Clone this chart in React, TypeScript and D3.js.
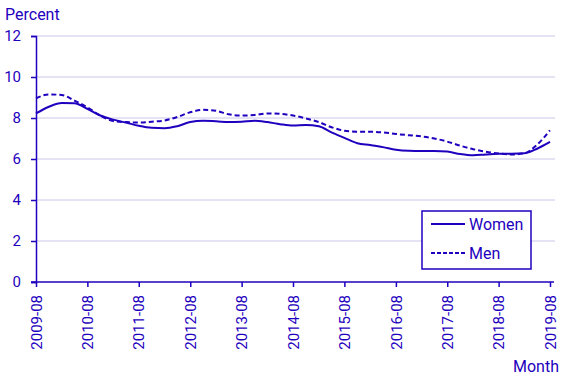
import * as d3 from "d3";
import { useEffect, useRef } from "react";

// quarterly readings, 2009-08 .. 2019-08
const startMonth = new Date(2009, 7, 1);
const women = [
  8.22, 8.55, 8.73, 8.72, 8.45, 8.12, 7.92, 7.78, 7.62, 7.52, 7.5, 7.6, 7.8, 7.86,
  7.84, 7.8, 7.82, 7.87, 7.8, 7.7, 7.63, 7.66, 7.6, 7.3, 7.03, 6.77, 6.68, 6.58,
  6.45, 6.4, 6.39, 6.39, 6.36, 6.24, 6.18, 6.22, 6.26, 6.26, 6.28, 6.5, 6.83,
];
const men = [
  8.96, 9.15, 9.12, 8.85, 8.52, 8.12, 7.85, 7.8, 7.78, 7.82, 7.88, 8.05, 8.28, 8.4,
  8.35, 8.18, 8.12, 8.15, 8.22, 8.2, 8.12, 7.98, 7.8, 7.55, 7.38, 7.33, 7.33, 7.3,
  7.22, 7.16, 7.1, 7.0, 6.85, 6.65, 6.48, 6.36, 6.27, 6.22, 6.28, 6.7, 7.4,
];
const yTicks = [0, 2, 4, 6, 8, 10, 12];
const xTickLabels = [
  "2009-08", "2010-08", "2011-08", "2012-08", "2013-08", "2014-08",
  "2015-08", "2016-08", "2017-08", "2018-08", "2019-08",
];
const seriesNames = ["Women", "Men"];

const width = 567;
const height = 378;
const color = "#1e00be";
const gridColor = "#cbc6e8";
const font = "Roboto, Arial, sans-serif";

export default function App() {
  const ref = useRef<SVGSVGElement>(null);

  useEffect(() => {
    const svg = d3.select(ref.current);
    svg.selectAll("*").remove();

    const dates = women.map((_, i) => d3.timeMonth.offset(startMonth, i * 3));
    const tickDates = xTickLabels.map((s) => d3.timeParse("%Y-%m")(s) as Date);

    const x = d3.scaleTime([startMonth, tickDates[tickDates.length - 1]], [36, 550]);
    const y = d3.scaleLinear([0, 12], [282, 36]);

    // grid
    svg
      .append("g")
      .selectAll("line")
      .data(yTicks.filter((d) => d > 0))
      .join("line")
      .attr("x1", 36)
      .attr("x2", 555)
      .attr("y1", (d) => y(d))
      .attr("y2", (d) => y(d))
      .attr("stroke", gridColor)
      .attr("stroke-width", 1);

    // y axis
    const yAxis = svg
      .append("g")
      .attr("transform", "translate(36,0)")
      .call(d3.axisLeft(y).tickValues(yTicks).tickSize(5).tickPadding(10));
    yAxis.select(".domain").attr("stroke", color).attr("stroke-width", 1.5);
    yAxis.selectAll("line").attr("stroke", color).attr("stroke-width", 1.5);
    yAxis
      .selectAll("text")
      .attr("fill", color)
      .style("font-family", font)
      .style("font-size", "15px");

    // x axis
    const xAxis = svg
      .append("g")
      .attr("transform", "translate(0,282)")
      .call(
        d3
          .axisBottom(x)
          .tickValues(tickDates)
          .tickFormat((d) => d3.timeFormat("%Y-%m")(d as Date))
          .tickSize(5)
          .tickSizeOuter(0)
      );
    xAxis.select(".domain").remove();
    xAxis
      .append("line")
      .attr("x1", 31)
      .attr("x2", 554)
      .attr("stroke", color)
      .attr("stroke-width", 1.5);
    xAxis.selectAll(".tick line").attr("stroke", color).attr("stroke-width", 1.5);
    xAxis
      .selectAll("text")
      .attr("fill", color)
      .attr("transform", "rotate(-90)")
      .attr("text-anchor", "end")
      .attr("x", -13)
      .attr("y", 0)
      .attr("dy", "0.35em")
      .style("font-family", font)
      .style("font-size", "15px");

    // lines
    const line = d3
      .line<number>()
      .x((_, i) => x(dates[i]))
      .y((d) => y(d))
      .curve(d3.curveMonotoneX);

    svg
      .append("path")
      .attr("d", line(men))
      .attr("fill", "none")
      .attr("stroke", color)
      .attr("stroke-width", 2)
      .attr("stroke-dasharray", "5,3");

    svg
      .append("path")
      .attr("d", line(women))
      .attr("fill", "none")
      .attr("stroke", color)
      .attr("stroke-width", 2);

    // titles
    svg
      .append("text")
      .attr("x", 5)
      .attr("y", 20)
      .attr("fill", color)
      .style("font-family", font)
      .style("font-size", "16px")
      .text("Percent");

    svg
      .append("text")
      .attr("x", 559)
      .attr("y", 372)
      .attr("text-anchor", "end")
      .attr("fill", color)
      .style("font-family", font)
      .style("font-size", "16px")
      .text("Month");

    // legend
    const legend = svg.append("g").attr("transform", "translate(422,211)");
    legend
      .append("rect")
      .attr("width", 109)
      .attr("height", 58)
      .attr("fill", "white")
      .attr("stroke", color)
      .attr("stroke-width", 1.5);
    seriesNames.forEach((name, i) => {
      const g = legend.append("g").attr("transform", `translate(0,${13 + i * 29})`);
      g.append("line")
        .attr("x1", 9)
        .attr("x2", 43)
        .attr("stroke", color)
        .attr("stroke-width", 2)
        .attr("stroke-dasharray", i === 1 ? "4,2" : null);
      g.append("text")
        .attr("x", 47)
        .attr("dy", "0.35em")
        .attr("fill", color)
        .style("font-family", font)
        .style("font-size", "16px")
        .text(name);
    });
  }, []);

  return (
    <svg
      ref={ref}
      width={width}
      height={height}
      style={{ position: "absolute", left: 0, top: 0, background: "white" }}
    />
  );
}
